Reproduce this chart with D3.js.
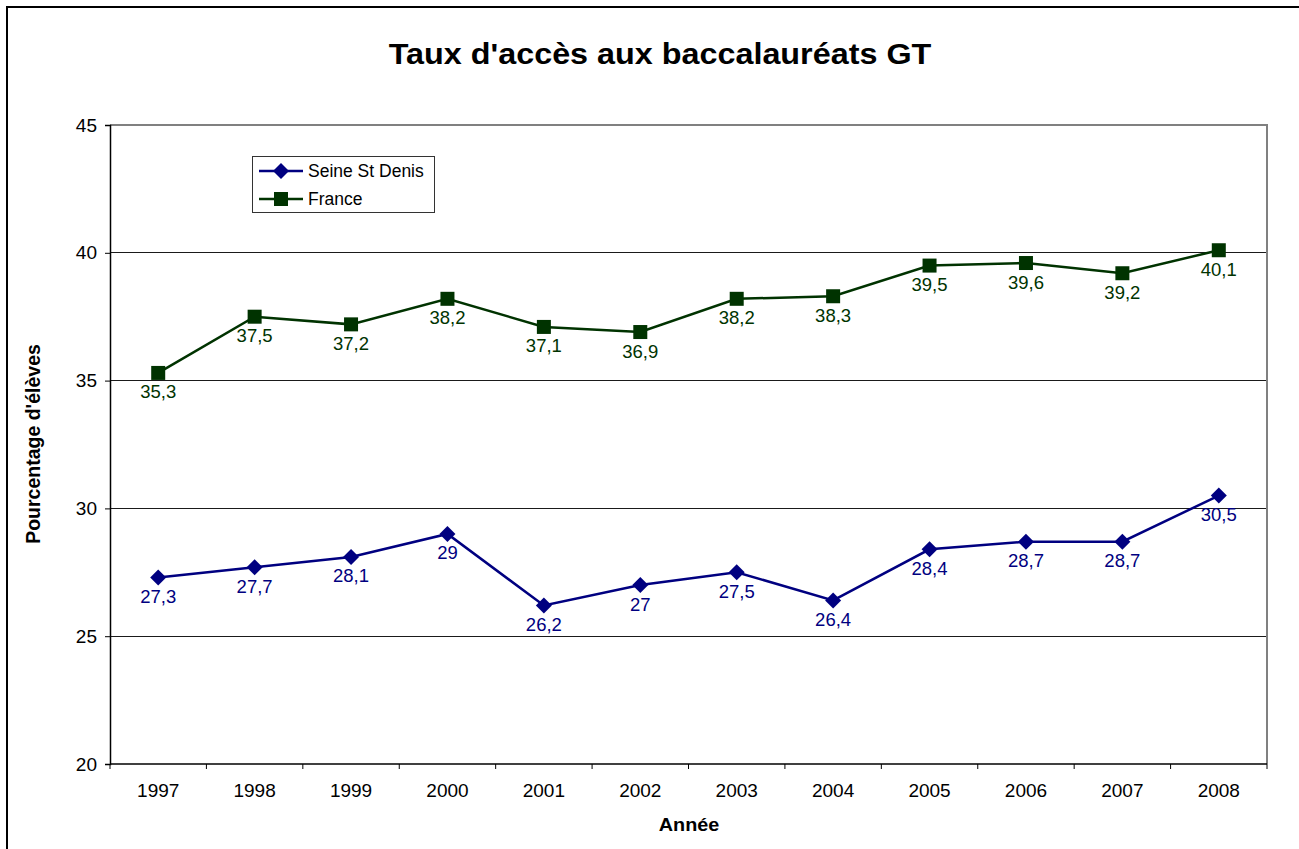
<!DOCTYPE html>
<html>
<head>
<meta charset="utf-8">
<script src="https://cdn.jsdelivr.net/npm/d3@7"></script>
<style>
  html, body { margin: 0; padding: 0; background: #fff; }
  svg { display: block; font-family: "Liberation Sans", Arial, sans-serif; }
</style>
</head>
<body>
<svg id="chart" width="1299" height="849"></svg>
<script>
// Years on the category axis
const years = ["1997", "1998", "1999", "2000", "2001", "2002", "2003", "2004", "2005", "2006", "2007", "2008"];
// Access rate to general & technological baccalaureate (%)
const seineStDenis = [27.3, 27.7, 28.1, 29, 26.2, 27, 27.5, 26.4, 28.4, 28.7, 28.7, 30.5];
const france = [35.3, 37.5, 37.2, 38.2, 37.1, 36.9, 38.2, 38.3, 39.5, 39.6, 39.2, 40.1];
const yTicks = [20, 25, 30, 35, 40, 45];

const series = [
  { name: "Seine St Denis", values: seineStDenis, color: "#000080", marker: "diamond" },
  { name: "France", values: france, color: "#003300", marker: "square" }
];

const svg = d3.select("#chart");
const plot = { left: 110, right: 1267, top: 125, bottom: 764 };

const x = d3.scaleBand().domain(years).range([plot.left, plot.right]);
const y = d3.scaleLinear().domain([20, 45]).range([plot.bottom, plot.top]);
const fmt = v => String(v).replace(".", ",");

// Outer frame
svg.append("rect")
  .attr("x", 7).attr("y", 7).attr("width", 1320).attr("height", 870)
  .attr("fill", "none").attr("stroke", "#000").attr("stroke-width", 2);

// Title (slightly widened lettering)
svg.append("text")
  .attr("transform", "translate(660,64) scale(1.115,1)")
  .attr("text-anchor", "middle")
  .attr("font-size", 29).attr("font-weight", "bold")
  .text("Taux d'accès aux baccalauréats GT");

// Horizontal gridlines
svg.append("g")
  .selectAll("line")
  .data(yTicks.filter(t => t > 20 && t < 45))
  .join("line")
  .attr("x1", plot.left).attr("x2", plot.right)
  .attr("y1", d => y(d)).attr("y2", d => y(d))
  .attr("stroke", "#1a1a1a").attr("stroke-width", 1)
  .attr("shape-rendering", "crispEdges");

// Plot area border (top and right, grey)
svg.append("path")
  .attr("d", `M${plot.left},${plot.top}H${plot.right}V${plot.bottom}`)
  .attr("fill", "none").attr("stroke", "#808080").attr("stroke-width", 2);

// Y axis
const yAxis = d3.axisLeft(y).tickValues(yTicks).tickSize(5).tickPadding(8).tickFormat(d => d);
const gy = svg.append("g").attr("transform", `translate(${plot.left},0)`).call(yAxis);
gy.select(".domain").attr("stroke", "#000").attr("stroke-width", 1.5);
gy.selectAll(".tick line").attr("stroke", "#000");
gy.selectAll(".tick text")
  .attr("font-size", 19).attr("fill", "#000")
  .attr("font-family", "Liberation Sans, Arial, sans-serif");

// X axis: ticks sit between categories
const gx = svg.append("g").attr("transform", `translate(0,${plot.bottom})`);
gx.append("line")
  .attr("x1", plot.left).attr("x2", plot.right)
  .attr("stroke", "#000").attr("stroke-width", 1.5);
const boundaries = years.map(yr => x(yr)).concat([x(years[years.length - 1]) + x.bandwidth()]);
gx.selectAll("line.tick")
  .data(boundaries)
  .join("line")
  .attr("class", "tick")
  .attr("x1", d => d).attr("x2", d => d)
  .attr("y1", 0).attr("y2", 5)
  .attr("stroke", "#000").attr("stroke-width", 1);
gx.selectAll("text")
  .data(years)
  .join("text")
  .attr("x", d => x(d) + x.bandwidth() / 2)
  .attr("y", 33)
  .attr("text-anchor", "middle")
  .attr("font-size", 19)
  .text(d => d);

// Axis titles
svg.append("text")
  .attr("transform", "translate(689,831) scale(1.1,1)")
  .attr("text-anchor", "middle")
  .attr("font-size", 18).attr("font-weight", "bold")
  .text("Année");
svg.append("text")
  .attr("transform", "translate(40,444) rotate(-90)")
  .attr("text-anchor", "middle")
  .attr("font-size", 19.5).attr("font-weight", "bold")
  .text("Pourcentage d'élèves");

const cx = i => x(years[i]) + x.bandwidth() / 2;
const line = d3.line().x((d, i) => cx(i)).y(d => y(d));

function drawMarker(g, type, color, px, py) {
  if (type === "diamond") {
    g.append("path")
      .attr("d", `M${px},${py - 8}L${px + 8},${py}L${px},${py + 8}L${px - 8},${py}Z`)
      .attr("fill", color);
  } else {
    g.append("rect")
      .attr("x", px - 7).attr("y", py - 7).attr("width", 14).attr("height", 14)
      .attr("fill", color);
  }
}

// Series lines, markers and value labels
series.forEach(s => {
  const g = svg.append("g");
  g.append("path")
    .datum(s.values)
    .attr("d", line)
    .attr("fill", "none")
    .attr("stroke", s.color)
    .attr("stroke-width", 2.5);
  s.values.forEach((v, i) => drawMarker(g, s.marker, s.color, cx(i), y(v)));
  g.selectAll("text.label")
    .data(s.values)
    .join("text")
    .attr("class", "label")
    .attr("x", (d, i) => cx(i))
    .attr("y", d => y(d) + 25.5)
    .attr("text-anchor", "middle")
    .attr("font-size", 18.5)
    .attr("fill", s.color)
    .text(d => fmt(d));
});

// Legend
const legend = svg.append("g");
legend.append("rect")
  .attr("x", 252.5).attr("y", 156.5).attr("width", 182).attr("height", 56)
  .attr("fill", "#fff").attr("stroke", "#333").attr("stroke-width", 1);
series.forEach((s, i) => {
  const ly = 171 + i * 28;
  legend.append("line")
    .attr("x1", 259).attr("x2", 303).attr("y1", ly).attr("y2", ly)
    .attr("stroke", s.color).attr("stroke-width", 2.5);
  drawMarker(legend, s.marker, s.color, 281, ly);
  legend.append("text")
    .attr("x", 308).attr("y", ly + 6)
    .attr("font-size", 17.5)
    .text(s.name);
});
</script>
</body>
</html>
